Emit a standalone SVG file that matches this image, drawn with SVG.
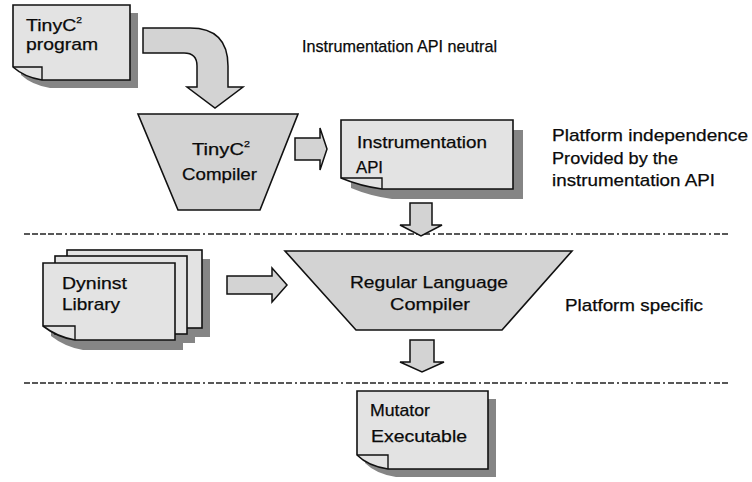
<svg xmlns="http://www.w3.org/2000/svg" width="752" height="482" viewBox="0 0 752 482">
  <style>
    .doc { fill: #e3e3e3; stroke: #111; stroke-width: 1.6; stroke-linejoin: miter; }
    .flap { fill: none; stroke: #111; stroke-width: 1.4; }
    .shadow { fill: #858585; stroke: none; }
    .comp { fill: #d3d3d3; stroke: #111; stroke-width: 1.6; }
    .arrow { fill: #d3d3d3; stroke: #111; stroke-width: 1.5; stroke-linejoin: miter; }
    .sep { fill: none; stroke: #222; stroke-width: 1.6; stroke-dasharray: 6 2 6 2 6 2 6 2 6 3 2 3; }
    .t { font-family: "Liberation Sans", Arial, sans-serif; font-size: 17px; fill: #0a0a0a; stroke: #0a0a0a; stroke-width: 0.25; }
    .sup { font-size: 9px; }
  </style>

  <rect width="752" height="482" fill="#ffffff"/>

  <!-- layer separators -->
  <g id="separators">
    <line class="sep" x1="24" y1="234" x2="728" y2="234"/>
    <line class="sep" x1="24" y1="383" x2="728" y2="383"/>
  </g>

  <!-- source program document -->
  <g id="tinyc-program">
    <path class="shadow" d="M21,13 H138 V88 H50 Q32,85 21,75 Z"/>
    <path class="doc" d="M13,5 H130 V80 H42 Q24,77 13,67 Z"/>
    <path class="flap" d="M13,67 H42 V80"/>
    <text class="t" x="26" y="31" textLength="56" lengthAdjust="spacingAndGlyphs">TinyC<tspan class="sup" dy="-8">2</tspan></text>
    <text class="t" x="26" y="50" textLength="72" lengthAdjust="spacingAndGlyphs">program</text>
  </g>

  <!-- TinyC2 compiler -->
  <g id="tinyc-compiler">
    <path class="comp" d="M138,114 H298 L260,210 H178 Z"/>
    <text class="t" x="192" y="155" textLength="58" lengthAdjust="spacingAndGlyphs">TinyC<tspan class="sup" dy="-8">2</tspan></text>
    <text class="t" x="182" y="180" textLength="75" lengthAdjust="spacingAndGlyphs">Compiler</text>
  </g>

  <!-- instrumentation API document -->
  <g id="instrumentation-api">
    <path class="shadow" d="M351,130 H523 V199 H392 Q370,196 351,188 Z"/>
    <path class="doc" d="M341,120 H513 V189 H382 Q360,186 341,178 Z"/>
    <path class="flap" d="M341,178 H382 V189"/>
    <text class="t" x="357" y="148" textLength="130" lengthAdjust="spacingAndGlyphs">Instrumentation</text>
    <text class="t" x="356" y="173" textLength="27" lengthAdjust="spacingAndGlyphs">API</text>
  </g>

  <!-- Dyninst library (stack of sheets) -->
  <g id="dyninst-library">
    <rect class="shadow" x="75" y="259" width="135" height="78"/>
    <rect class="shadow" x="63" y="265" width="132" height="78"/>
    <path class="shadow" d="M51,273 H183 V350 H83 Q65,347 51,336 Z"/>
    <rect class="doc" x="67" y="250" width="135" height="78"/>
    <rect class="doc" x="55" y="256" width="132" height="78"/>
    <path class="doc" d="M43,263 H175 V340 H75 Q57,337 43,326 Z"/>
    <path class="flap" d="M43,326 H75 V340"/>
    <text class="t" x="62" y="289" textLength="65" lengthAdjust="spacingAndGlyphs">Dyninst</text>
    <text class="t" x="62" y="310" textLength="58" lengthAdjust="spacingAndGlyphs">Library</text>
  </g>

  <!-- regular language compiler -->
  <g id="regular-language-compiler">
    <path class="comp" d="M285,251 H572 L502,330 H356 Z"/>
    <text class="t" x="350" y="288" textLength="158" lengthAdjust="spacingAndGlyphs">Regular Language</text>
    <text class="t" x="390" y="310" textLength="80" lengthAdjust="spacingAndGlyphs">Compiler</text>
  </g>

  <!-- mutator executable document -->
  <g id="mutator-executable">
    <path class="shadow" d="M365,399 H496 V477 H396 Q376,474 365,463 Z"/>
    <path class="doc" d="M357,391 H488 V469 H388 Q368,466 357,455 Z"/>
    <path class="flap" d="M357,455 H388 V469"/>
    <text class="t" x="370" y="416" textLength="60" lengthAdjust="spacingAndGlyphs">Mutator</text>
    <text class="t" x="371" y="442" textLength="96" lengthAdjust="spacingAndGlyphs">Executable</text>
  </g>

  <!-- block arrows between stages -->
  <g id="connectors">
    <path class="arrow" d="M143,28 H190 Q228,28 228,66 V87 H243 L215,108 L187,87 H197 V66 Q197,53 184,53 H143 Z"/>
    <path class="arrow" d="M295,138 H320 V128 L327,149 L320,170 V160 H295 Z"/>
    <path class="arrow" d="M410,203 H432 V225 H442 L421,236 L400,225 H410 Z"/>
    <path class="arrow" d="M227,276 H272 V268 L287,285 L272,302 V294 H227 Z"/>
    <path class="arrow" d="M410,340 H434 V362 H444 L422,372 L400,362 H410 Z"/>
  </g>

  <!-- layer annotations -->
  <g id="annotations">
    <text class="t" x="302" y="52" textLength="195" lengthAdjust="spacingAndGlyphs">Instrumentation API neutral</text>
    <text class="t" x="552" y="141" textLength="196" lengthAdjust="spacingAndGlyphs">Platform independence</text>
    <text class="t" x="552" y="164" textLength="126" lengthAdjust="spacingAndGlyphs">Provided by the</text>
    <text class="t" x="552" y="186" textLength="163" lengthAdjust="spacingAndGlyphs">instrumentation API</text>
    <text class="t" x="565" y="311" textLength="138" lengthAdjust="spacingAndGlyphs">Platform specific</text>
  </g>
</svg>
